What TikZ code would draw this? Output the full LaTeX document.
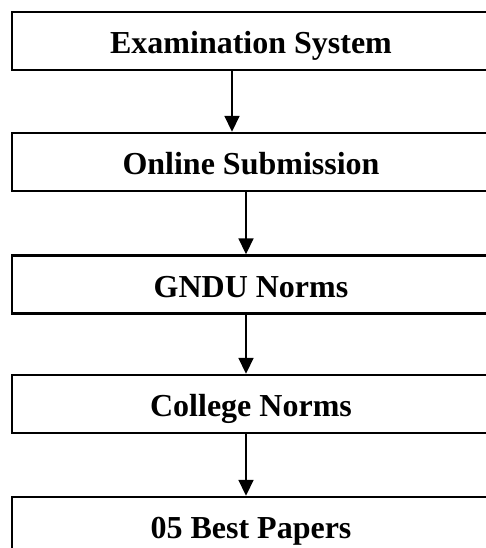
\documentclass[tikz,border=0pt]{standalone}
\usepackage{fontspec}
\setmainfont{Liberation Serif}
\usetikzlibrary{arrows.meta}
\begin{document}
\begin{tikzpicture}[x=1pt,y=1pt,
  stagebox/.style={draw=black, line width=2.4pt, rectangle, minimum width=478pt, minimum height=58pt, inner sep=0pt, text height=25pt, text depth=0pt, font=\fontsize{32}{36}\selectfont\bfseries},
  arr/.style={line width=1.8pt, -{Triangle[length=16pt,width=15pt]}}]
\useasboundingbox (0,0) rectangle (485,-548);
\fill[white] (0,0) rectangle (485,-548);
\node[stagebox] (b1) at (251,-41) {Examination System};
\node[stagebox] (b2) at (251,-162) {Online Submission};
\node[stagebox] (b3) at (251,-284.5) {GNDU Norms};
\node[stagebox] (b4) at (251,-404) {College Norms};
\node[stagebox] (b5) at (251,-526) {05 Best Papers};
\draw[arr] ([xshift=-19pt]b1.south) -- ([xshift=-19pt]b2.north);
\draw[arr] ([xshift=-5pt]b2.south) -- ([xshift=-5pt]b3.north);
\draw[arr] ([xshift=-5pt]b3.south) -- ([xshift=-5pt]b4.north);
\draw[arr] ([xshift=-5pt]b4.south) -- ([xshift=-5pt]b5.north);
\end{tikzpicture}
\end{document}
